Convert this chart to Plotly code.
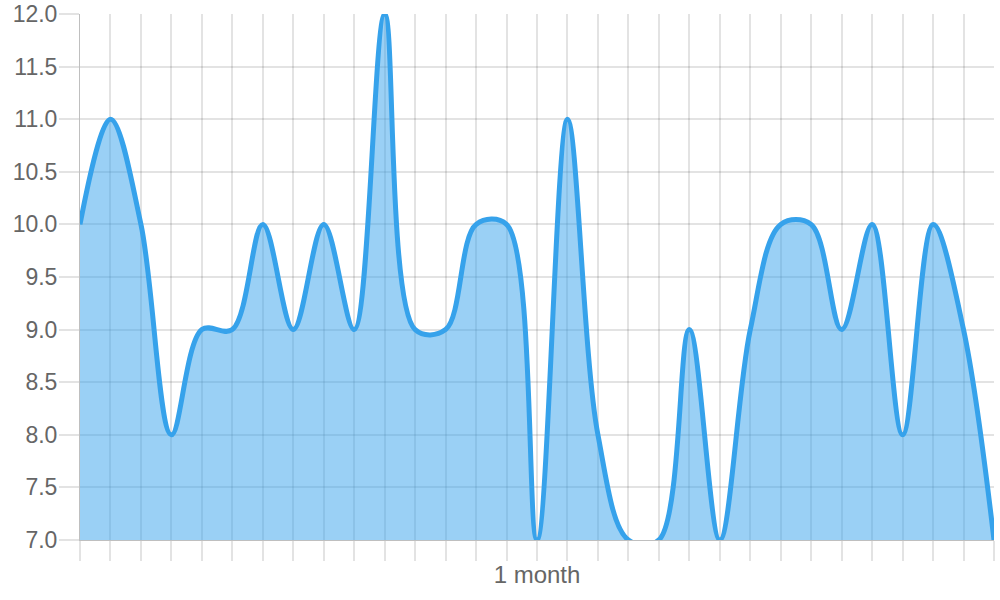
import plotly.graph_objects as go

# one point per day, 31 days
days = list(range(31))
values = [10, 11, 10, 8, 9, 9, 10, 9, 10, 9,
          12, 9, 9, 10, 10, 7, 11, 8, 7, 7,
          9, 7, 9, 10, 10, 9, 10, 8, 10, 9,
          7]
tick_text = ["" for _ in days]
tick_text[15] = "1 month"

y_ticks = [7.0, 7.5, 8.0, 8.5, 9.0, 9.5, 10.0, 10.5, 11.0, 11.5, 12.0]

line_col = "#36A2EB"
fill_col = "rgba(54,162,235,0.5)"
grid_col = "rgba(0,0,0,0.11)"

fig = go.Figure()
fig.add_trace(go.Scatter(
    x=days, y=values,
    mode="lines",
    line=dict(color=line_col, width=5, shape="spline", smoothing=1),
    fill="tozeroy", fillcolor=fill_col,
    hoverinfo="x+y",
))

fig.update_xaxes(
    range=[0, 30], automargin=False,
    tickmode="array", tickvals=days, ticktext=tick_text,
    showgrid=True, gridcolor=grid_col, gridwidth=1.5,
    ticks="outside", ticklen=20, tickcolor=grid_col, tickwidth=1.5,
    showline=True, linecolor="rgba(0,0,0,0.25)", linewidth=1,
    zeroline=False, ticklabelstandoff=-7, ticklabeloverflow="allow",
    tickfont=dict(size=24, color="#666"),
)
fig.update_yaxes(
    range=[7, 12], automargin=False,
    tickmode="array", tickvals=y_ticks, ticktext=[f"{v:.1f}" for v in y_ticks],
    showgrid=True, gridcolor=grid_col, gridwidth=1.5,
    ticks="outside", ticklen=20, tickcolor=grid_col, tickwidth=1.5,
    showline=True, linecolor="rgba(0,0,0,0.25)", linewidth=1,
    zeroline=False, ticklabelstandoff=-3, ticklabeloverflow="allow",
    tickfont=dict(size=23, color="#666"),
)
fig.update_layout(
    width=1000, height=600,
    margin=dict(l=80, r=6, t=14, b=60),
    plot_bgcolor="white", paper_bgcolor="white",
    font=dict(family="Liberation Sans, Arial, sans-serif"),
    showlegend=False,
)

# drop the default 8px body margin so the figure fills the window
fig.write_html("out.html", config={"displayModeBar": False},
               post_script="document.body.style.margin='0';")
